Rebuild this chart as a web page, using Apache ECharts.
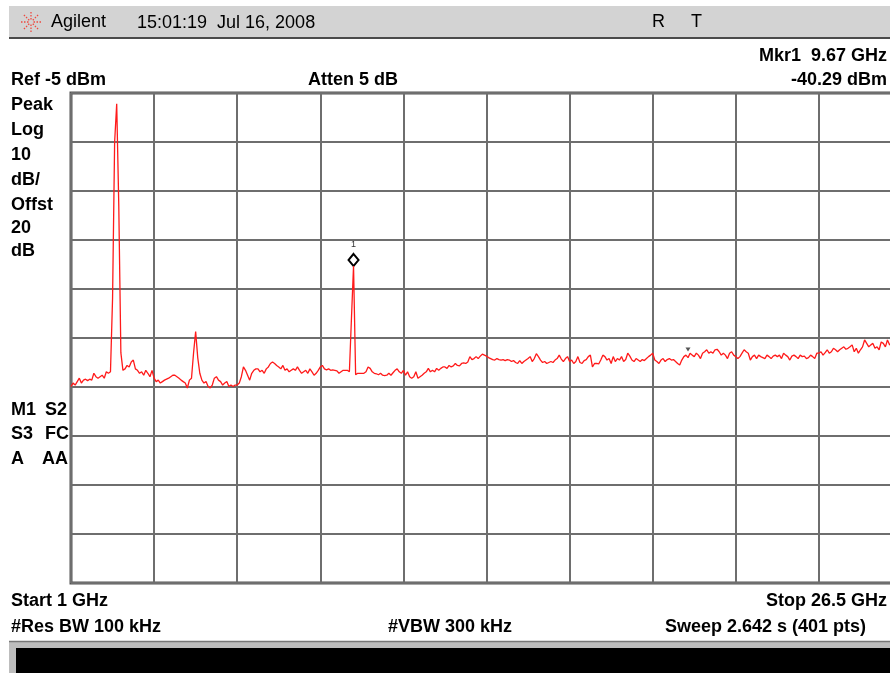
<!DOCTYPE html>
<html>
<head>
<meta charset="utf-8">
<script src="https://cdn.jsdelivr.net/npm/echarts@6/dist/echarts.min.js"></script>
<style>
html, body { margin: 0; padding: 0; background: #fff; overflow: hidden; }
#spectrum { width: 905px; height: 673px; }
</style>
</head>
<body>
<div id="spectrum"></div>
<script>
// analyzer settings
var refDbm = -5;
var dbPerDiv = 10;
var markerIndex = 136;   // Mkr1 9.67 GHz
var flagIndex = 297;

// trace, 401 pts from 1 GHz to 26.5 GHz (dBm)
var levels = [
  -64.9, -64.2, -64.6, -63.9, -63.2, -64.2, -63.6, -63.4, -63.7, -63.4,
  -63.6, -62.2, -62.9, -63.2, -62.9, -62.6, -63.2, -61.9, -62.2, -61.9,
  -47.0, -15.0, -7.2, -28.0, -58.0, -61.6, -61.3, -60.6, -60.9, -59.9,
  -59.5, -61.3, -61.6, -62.2, -61.9, -62.6, -61.6, -62.2, -62.9, -61.6,
  -63.2, -63.9, -63.6, -64.2, -63.9, -63.6, -63.4, -63.2, -62.9, -62.6,
  -62.6, -62.9, -63.2, -63.6, -63.9, -64.2, -65.2, -63.6, -63.2, -58.0,
  -53.7, -59.0, -62.2, -63.6, -64.2, -63.9, -64.9, -65.2, -64.6, -63.2,
  -62.9, -63.6, -63.9, -64.6, -64.2, -63.9, -64.9, -64.6, -64.9, -64.6,
  -64.6, -64.2, -62.9, -60.9, -61.6, -62.6, -63.6, -62.2, -61.6, -61.3,
  -61.3, -61.9, -61.6, -62.2, -61.3, -60.9, -60.2, -59.9, -60.2, -60.6,
  -60.9, -61.3, -60.6, -61.6, -61.3, -61.9, -61.6, -61.3, -61.6, -60.9,
  -61.6, -62.2, -61.9, -61.6, -62.2, -61.3, -61.9, -62.6, -62.2, -61.6,
  -60.9, -60.6, -61.3, -61.5, -61.3, -61.6, -61.5, -61.6, -61.7, -62.2,
  -61.9, -61.6, -61.6, -61.6, -61.9, -50.9, -40.29, -62.5, -62.2, -62.2,
  -62.2, -62.2, -61.9, -60.9, -61.2, -61.9, -62.2, -62.3, -62.5, -62.2,
  -62.6, -62.7, -62.6, -62.2, -62.6, -62.1, -61.6, -61.3, -61.9, -62.2,
  -61.6, -62.6, -61.9, -62.9, -63.2, -62.9, -61.9, -63.2, -62.9, -62.6,
  -62.2, -61.9, -61.2, -61.9, -61.6, -61.9, -61.2, -61.6, -61.2, -60.9,
  -60.9, -61.2, -60.6, -60.9, -60.7, -60.2, -60.6, -60.7, -60.2, -60.1,
  -60.2, -59.9, -58.8, -59.4, -59.2, -58.8, -59.2, -58.7, -58.3, -58.5,
  -58.7, -59.0, -59.2, -59.4, -59.5, -59.2, -59.4, -59.5, -59.4, -59.6,
  -59.4, -59.5, -59.8, -59.6, -60.0, -60.2, -59.6, -60.2, -59.8, -59.5,
  -59.2, -58.8, -59.8, -59.2, -58.2, -58.8, -59.5, -60.0, -59.8, -60.2,
  -60.0, -59.8, -60.0, -59.5, -59.2, -58.5, -59.3, -59.8, -59.2, -58.8,
  -59.8, -59.5, -60.2, -59.8, -58.8, -60.0, -60.2, -59.6, -59.4, -58.8,
  -58.5, -60.9, -60.2, -60.2, -60.3, -59.5, -58.5, -58.8, -59.5, -59.2,
  -60.2, -58.8, -59.8, -59.2, -59.5, -58.8, -59.8, -59.4, -58.1, -58.7,
  -59.5, -59.8, -59.2, -59.5, -59.8, -59.4, -59.6, -59.2, -58.8, -58.5,
  -58.1, -59.5, -59.8, -60.2, -59.5, -59.2, -59.8, -59.4, -59.2, -59.5,
  -59.4, -59.8, -60.2, -60.5, -59.5, -58.8, -58.5, -59.0, -58.1, -58.5,
  -58.8, -58.1, -58.5, -59.2, -58.1, -57.8, -57.4, -58.1, -57.8, -58.1,
  -57.4, -57.3, -57.8, -58.5, -58.1, -58.5, -59.2, -58.1, -57.8, -58.5,
  -58.8, -59.2, -58.8, -58.1, -57.4, -57.8, -58.1, -59.5, -58.8, -58.5,
  -59.2, -58.5, -58.8, -59.0, -59.2, -58.5, -58.8, -59.2, -58.7, -58.5,
  -58.8, -58.5, -59.2, -58.1, -58.5, -58.8, -59.5, -58.7, -58.5, -58.8,
  -59.2, -58.5, -58.8, -58.7, -59.2, -59.0, -58.5, -58.8, -59.2, -58.1,
  -58.1, -57.8, -58.5, -58.0, -57.4, -58.1, -57.8, -57.1, -57.4, -57.8,
  -57.4, -57.1, -56.8, -57.3, -57.1, -56.8, -56.4, -57.8, -57.1, -58.1,
  -57.4, -56.8, -55.4, -56.1, -56.8, -56.4, -56.1, -57.1, -56.8, -57.4,
  -55.8, -56.1, -56.8, -55.4, -56.4, -56.1, -55.8, -56.1, -55.4, -55.8,
  -56.0
];

var leftLabels = ["Peak", "Log", "10", "dB/", "Offst", "20", "dB"];
var leftLabelY = [105, 130, 155, 180, 205, 228, 251];

var FONT = "Liberation Sans, Arial, sans-serif";

function txt(s, x, y, opt) {
  opt = opt || {};
  return {
    type: "text",
    x: x,
    y: y,
    z: 100,
    style: {
      text: s,
      fill: opt.color || "#000",
      fontSize: opt.size || 18,
      fontWeight: opt.weight || "bold",
      fontFamily: FONT,
      align: opt.align || "left",
      textAlign: opt.align || "left",
      verticalAlign: "middle",
      textVerticalAlign: "middle"
    }
  };
}

var chart = echarts.init(document.getElementById("spectrum"), null, { renderer: "canvas" });

var graphics = [];
// title bar
graphics.push({ type: "rect", shape: { x: 9, y: 6, width: 900, height: 31 }, style: { fill: "#d3d3d3" }, z: 1 });
graphics.push({ type: "line", shape: { x1: 9, y1: 38, x2: 905, y2: 38 }, style: { stroke: "#4a4a4a", lineWidth: 2 }, z: 2 });
// agilent spark logo
for (var k = 0; k < 8; k++) {
  var a = k * Math.PI / 4;
  graphics.push({
    type: "line",
    z: 50,
    shape: { x1: 31 + 2.5 * Math.cos(a), y1: 22 + 2.5 * Math.sin(a), x2: 31 + 10 * Math.cos(a), y2: 22 + 10 * Math.sin(a) },
    style: { stroke: "#ee4a40", lineWidth: 1.3, lineDash: [1.5, 1.5] }
  });
}
graphics.push(txt("Agilent", 51, 22, { weight: "normal" }));
graphics.push(txt("15:01:19  Jul 16, 2008", 137, 23, { weight: "normal" }));
graphics.push(txt("R", 652, 22, { weight: "normal" }));
graphics.push(txt("T", 691, 22, { weight: "normal" }));

// header
graphics.push(txt("Mkr1  9.67 GHz", 887, 56, { align: "right" }));
graphics.push(txt("Ref -5 dBm", 11, 80));
graphics.push(txt("Atten 5 dB", 308, 80));
graphics.push(txt("-40.29 dBm", 887, 80, { align: "right" }));

// left side status
leftLabels.forEach(function (s, i) { graphics.push(txt(s, 11, leftLabelY[i])); });
graphics.push(txt("M1", 11, 410));
graphics.push(txt("S2", 45, 410));
graphics.push(txt("S3", 11, 434));
graphics.push(txt("FC", 45, 434));
graphics.push(txt("A", 11, 459));
graphics.push(txt("AA", 42, 459));

// footer
graphics.push(txt("Start 1 GHz", 11, 601));
graphics.push(txt("Stop 26.5 GHz", 887, 601, { align: "right" }));
graphics.push(txt("#Res BW 100 kHz", 11, 627));
graphics.push(txt("#VBW 300 kHz", 388, 627));
graphics.push(txt("Sweep 2.642 s (401 pts)", 665, 627));

// black message box at bottom
graphics.push({ type: "rect", shape: { x: 9, y: 641, width: 900, height: 40 }, style: { fill: "#bdbdbd" }, z: 1 });
graphics.push({ type: "line", shape: { x1: 9, y1: 641.5, x2: 905, y2: 641.5 }, style: { stroke: "#777", lineWidth: 1.5 }, z: 2 });
graphics.push({ type: "rect", shape: { x: 16, y: 648, width: 900, height: 40 }, style: { fill: "#000" }, z: 3 });

var traceData = levels.map(function (v, i) { return [i, v - refDbm]; });

var option = {
  backgroundColor: "#fff",
  animation: false,
  grid: {
    left: 71, top: 93, width: 831, height: 490,
    show: true, borderColor: "#555", borderWidth: 3, backgroundColor: "transparent"
  },
  xAxis: {
    type: "value", min: 0, max: 400, interval: 40,
    axisLine: { show: false }, axisTick: { show: false }, axisLabel: { show: false },
    splitLine: { show: true, lineStyle: { color: "#6e6e6e", width: 2 } }
  },
  yAxis: {
    type: "value", min: -10 * dbPerDiv, max: 0, interval: dbPerDiv,
    axisLine: { show: false }, axisTick: { show: false }, axisLabel: { show: false },
    splitLine: { show: true, lineStyle: { color: "#6e6e6e", width: 2 } }
  },
  series: [{
    type: "line",
    data: traceData,
    showSymbol: false,
    lineStyle: { color: "#ff1a1a", width: 1.3 },
    z: 10,
    markPoint: {
      silent: true,
      data: [{
        coord: [markerIndex, levels[markerIndex] - refDbm],
        symbol: "diamond",
        symbolSize: [10, 12],
        symbolOffset: [0, -6],
        itemStyle: { color: "#fff", borderColor: "#000", borderWidth: 2 },
        label: { show: true, formatter: "1", position: "top", distance: 4, fontSize: 9, color: "#333", fontFamily: FONT }
      }, {
        coord: [flagIndex, levels[flagIndex] - refDbm],
        symbol: "triangle",
        symbolRotate: 180,
        symbolSize: [5, 4],
        symbolOffset: [0, -8],
        itemStyle: { color: "#555" },
        label: { show: false }
      }]
    }
  }],
  graphic: graphics
};

chart.setOption(option);
</script>
</body>
</html>
